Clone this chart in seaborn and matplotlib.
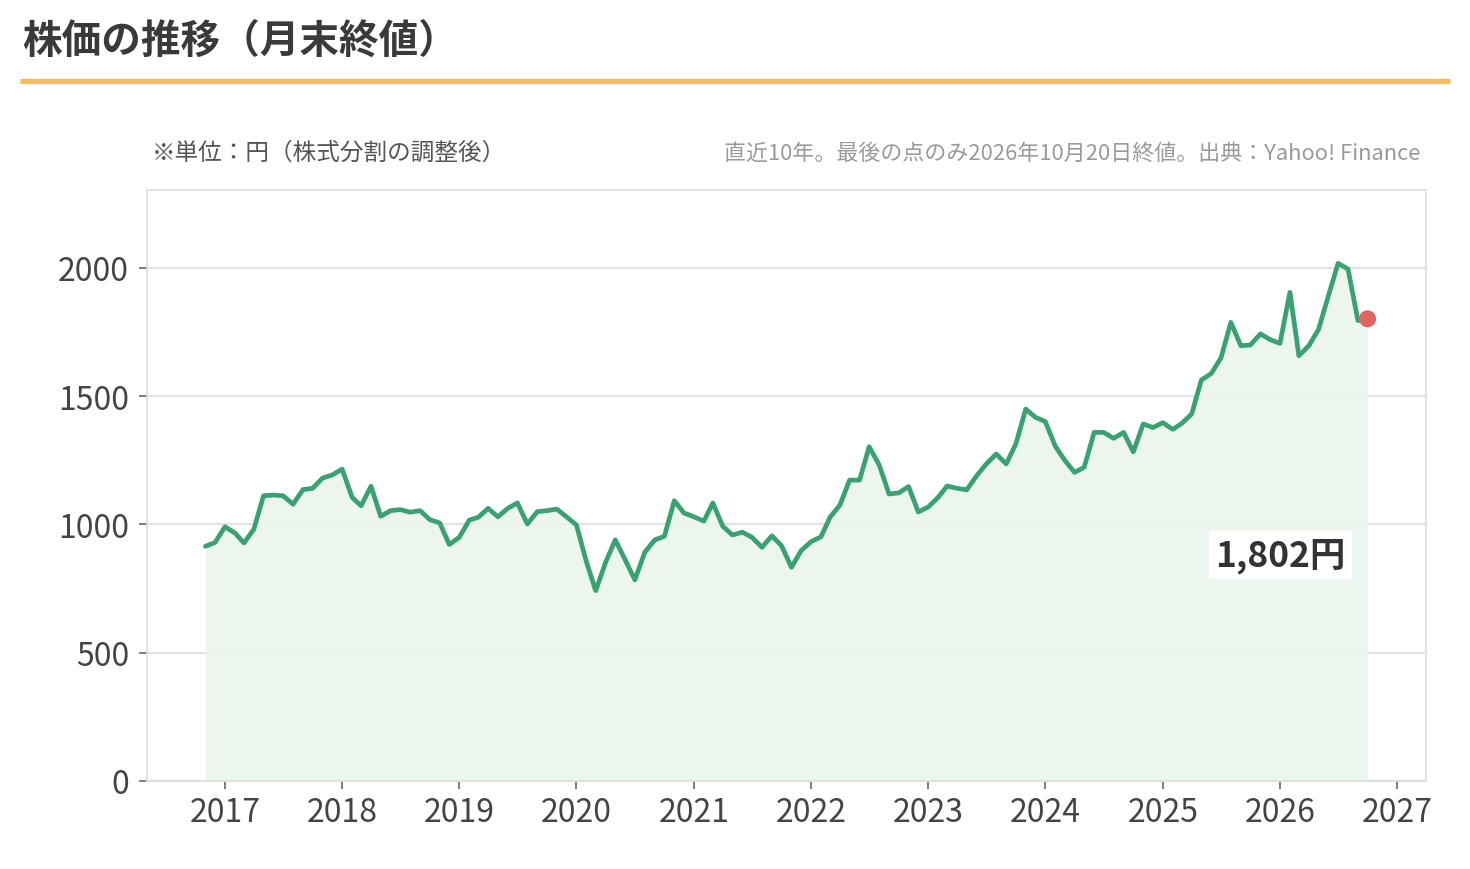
import matplotlib
matplotlib.use("Agg")
import matplotlib.pyplot as plt
import matplotlib.dates as mdates
from matplotlib.lines import Line2D
import seaborn as sns
import pandas as pd
import numpy as np

# ---- data ----
dates = pd.date_range("2016-11-01", "2026-10-01", freq="MS")
prices = [
    915, 930, 991, 967, 928, 982, 1112, 1115, 1112, 1079,
    1136, 1141, 1181, 1193, 1216, 1106, 1073, 1149, 1032, 1054,
    1058, 1048, 1054, 1019, 1006, 922, 950, 1017, 1028, 1063,
    1030, 1063, 1084, 1002, 1050, 1054, 1060, 1030, 998, 855,
    742, 853, 940, 862, 784, 892, 940, 954, 1093, 1045,
    1030, 1013, 1084, 993, 959, 970, 950, 911, 956, 917,
    833, 898, 933, 952, 1028, 1076, 1173, 1173, 1303, 1233,
    1119, 1123, 1148, 1049, 1068, 1106, 1150, 1141, 1135, 1190,
    1236, 1275, 1236, 1314, 1450, 1418, 1401, 1305, 1251, 1203,
    1223, 1359, 1359, 1336, 1359, 1283, 1392, 1378, 1397, 1371,
    1394, 1431, 1563, 1589, 1649, 1788, 1697, 1700, 1743, 1721,
    1706, 1905, 1658, 1697, 1760, 1892, 2018, 1996, 1795, 1802,
]
year_ticks = list(range(2017, 2028))
y_ticks = [0, 500, 1000, 1500, 2000]
title = "株価の推移（月末終値）"
note_left = "※単位：円（株式分割の調整後）"
note_right = "直近10年。最後の点のみ2026年10月20日終値。出典：Yahoo! Finance"
last_label = "1,802円"

df = pd.DataFrame({"date": dates, "price": prices})

sns.set_theme(style="white")
plt.rcParams["font.family"] = ["Noto Sans CJK JP", "DejaVu Sans"]

GREEN = "#3aa170"
fig = plt.figure(figsize=(14.7, 8.7), dpi=100)
ax = fig.add_axes([147 / 1470, 88 / 870, 1279 / 1470, 591 / 870])

ax.fill_between(df["date"], df["price"], 0, color="#eaf5ee", alpha=0.9, lw=0, zorder=1)
sns.lineplot(data=df, x="date", y="price", ax=ax, color=GREEN, lw=3.4, zorder=3)
ax.scatter([df["date"].iloc[-1]], [df["price"].iloc[-1]], s=150, color="#e06666",
           zorder=4, edgecolor="none")

ax.annotate(last_label, xy=(df["date"].iloc[-1], df["price"].iloc[-1]),
            xytext=(-63, -170), textcoords="offset points", ha="center", va="center",
            fontsize=25.5, fontweight="bold", color="#333333",
            bbox=dict(boxstyle="square,pad=0.18", fc="white", ec="none"), zorder=5)

ax.set_xlim(mdates.date2num(pd.Timestamp("2016-05-03")), mdates.date2num(pd.Timestamp("2027-04-01")))
ax.set_ylim(0, 2304)
ax.set_xticks([mdates.date2num(pd.Timestamp(f"{y}-01-01")) for y in year_ticks])
ax.set_xticklabels([str(y) for y in year_ticks])
ax.set_yticks(y_ticks)
ax.set_yticklabels([str(v) for v in y_ticks])
ax.set_xlabel("")
ax.set_ylabel("")
ax.grid(axis="y", color="#e2e2e2", lw=1.4)
ax.grid(axis="x", visible=False)
ax.set_axisbelow(True)
for s in ax.spines.values():
    s.set_color("#dddddd")
    s.set_linewidth(1.2)
ax.tick_params(axis="both", which="major", length=6, width=1.2, color="#666666",
               labelsize=23, labelcolor="#444444", direction="out", bottom=True, left=True)
ax.tick_params(axis="x", pad=5)
ax.tick_params(axis="y", pad=7)

fig.text(22 / 1470, 1 - 41 / 870, title, fontsize=28.5, fontweight="bold", color="#3a3a3a",
         ha="left", va="center")
fig.add_artist(Line2D([20 / 1470, 1450 / 1470], [1 - 82 / 870, 1 - 82 / 870],
                      color="#f3bd5f", lw=3.8, solid_capstyle="butt", transform=fig.transFigure))
fig.text(152 / 1470, 1 - 153 / 870, note_left, fontsize=17, color="#555555",
         ha="left", va="center")
fig.text(1420 / 1470, 1 - 154 / 870, note_right, fontsize=15.8, color="#999999",
         ha="right", va="center")

fig.savefig("out.png", dpi=100)
